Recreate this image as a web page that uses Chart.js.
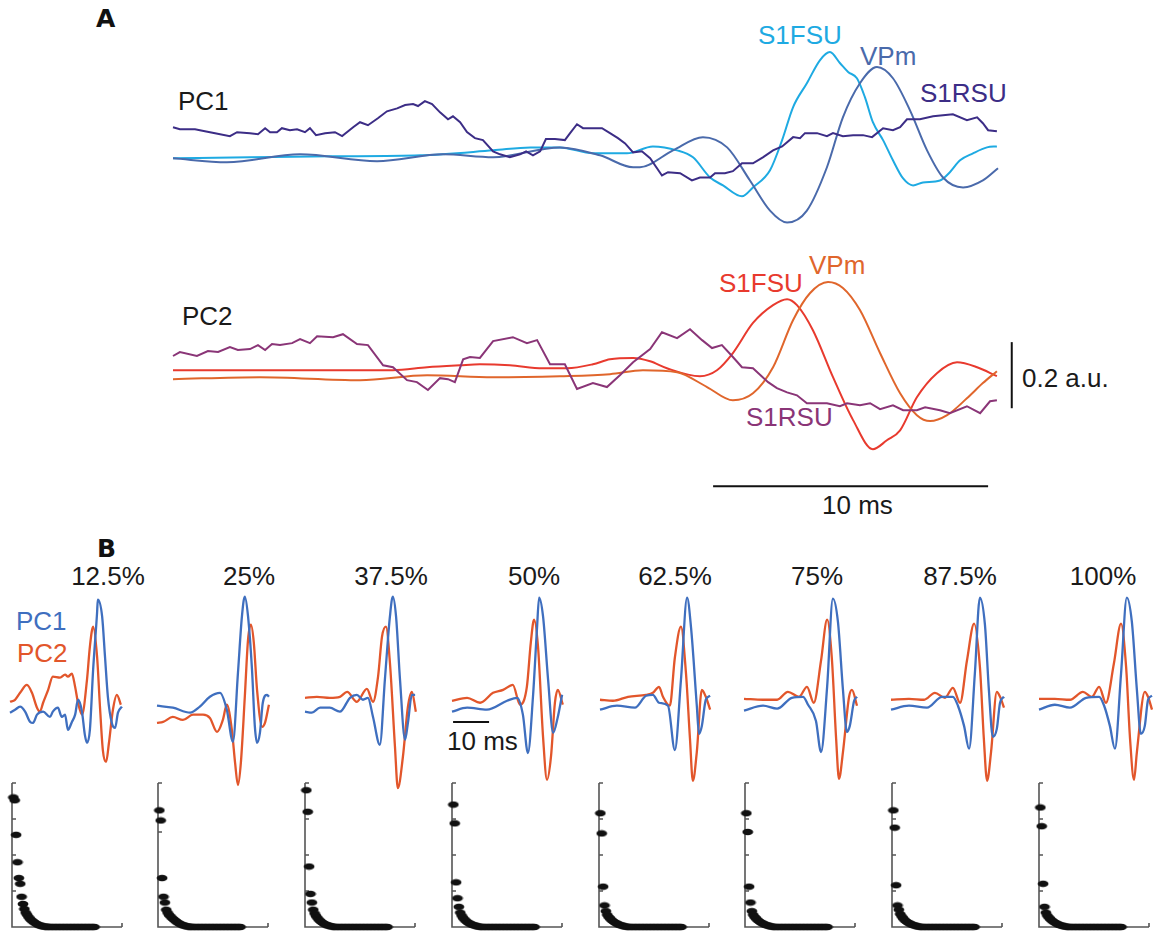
<!DOCTYPE html>
<html>
<head>
<meta charset="utf-8">
<title>PC waveforms</title>
<script src="https://cdn.jsdelivr.net/npm/chart.js@4.4.1/dist/chart.umd.min.js"></script>
<style>
  body { margin: 0; background: #fff; }
  #fig { position: relative; width: 1153px; height: 932px; overflow: hidden; font-family: "Liberation Sans", Arial, sans-serif; }
  #fig canvas { position: absolute; }
  .t { position: absolute; font-size: 26px; line-height: 26px; white-space: nowrap; color: #1a1a1a; }
  .pct { transform: translateX(-50%); }
  .panel { position: absolute; font-family: "DejaVu Sans", sans-serif; font-weight: bold; font-size: 25px; line-height: 25px; color: #111; }
</style>
</head>
<body>
<div id="fig">
  <div class="panel" style="left:96px;top:6px">A</div>
  <div class="t" style="left:178px;top:88px">PC1</div>
  <div class="t" style="left:758px;top:22px;color:#1eaae2">S1FSU</div>
  <div class="t" style="left:860px;top:43px;color:#4a6aab">VPm</div>
  <div class="t" style="left:920px;top:80px;color:#3c2d86">S1RSU</div>
  <div class="t" style="left:182px;top:303px">PC2</div>
  <div class="t" style="left:719px;top:270px;color:#e83a2e">S1FSU</div>
  <div class="t" style="left:809px;top:252px;color:#e0662c">VPm</div>
  <div class="t" style="left:746px;top:404px;color:#8a3577">S1RSU</div>
  <div class="t" style="left:1022px;top:365px">0.2 a.u.</div>
  <div class="t" style="left:822px;top:492px">10 ms</div>

  <div class="panel" style="left:97px;top:536px">B</div>
  <div class="t" style="left:16px;top:608px;color:#3f6fbf">PC1</div>
  <div class="t" style="left:17px;top:640px;color:#e2562b">PC2</div>
  <div class="t pct" style="left:108px;top:563px">12.5%</div>
  <div class="t pct" style="left:249px;top:563px">25%</div>
  <div class="t pct" style="left:391px;top:563px">37.5%</div>
  <div class="t pct" style="left:534px;top:563px">50%</div>
  <div class="t pct" style="left:675px;top:563px">62.5%</div>
  <div class="t pct" style="left:817px;top:563px">75%</div>
  <div class="t pct" style="left:960px;top:563px">87.5%</div>
  <div class="t pct" style="left:1103px;top:563px">100%</div>
  <div class="t" style="left:447px;top:728px">10 ms</div>
</div>
<script>
// ---------- Panel A: mean PC waveforms, [time (ms), amplitude (a.u.)] ----------
const pc1Rsu = [[0,0.091],[0.25,0.085],[0.8,0.085],[1.16,0.079],[1.53,0.073],[2.07,0.064],[2.33,0.076],[2.8,0.073],[3.09,0.07],[3.35,0.088],[3.53,0.076],[3.78,0.076],[3.96,0.088],[4.25,0.082],[4.51,0.085],[4.8,0.076],[4.98,0.088],[5.2,0.067],[5.53,0.073],[5.89,0.076],[6.15,0.064],[6.55,0.091],[6.8,0.106],[7.09,0.097],[7.45,0.118],[7.78,0.139],[8.15,0.148],[8.44,0.158],[8.73,0.161],[8.91,0.155],[9.16,0.17],[9.42,0.161],[9.71,0.136],[10.0,0.115],[10.18,0.124],[10.44,0.106],[10.69,0.076],[10.98,0.058],[11.27,0.052],[11.64,0.018],[11.89,0.009],[12.25,0],[12.62,0.009],[12.84,0.018],[13.09,0.006],[13.35,0.018],[13.56,0.055],[13.89,0.055],[14.25,0.052],[14.44,0.073],[14.69,0.1],[14.91,0.088],[15.6,0.088],[15.89,0.073],[16.18,0.058],[16.44,0.042],[16.73,0.015],[17.05,0.018],[17.35,-0.003],[17.78,-0.055],[18.0,-0.045],[18.44,-0.048],[18.87,-0.07],[19.16,-0.061],[19.53,-0.061],[19.71,-0.048],[20.07,-0.048],[20.36,-0.042],[20.69,-0.018],[21.09,-0.018],[21.45,0],[21.82,0.021],[22.15,0.033],[22.55,0.061],[22.8,0.058],[22.98,0.073],[23.42,0.073],[23.78,0.064],[24.0,0.073],[24.36,0.064],[24.73,0.067],[25.09,0.067],[25.42,0.061],[25.82,0.088],[26.18,0.082],[26.44,0.091],[26.69,0.115],[27.16,0.115],[27.64,0.124],[28.0,0.127],[28.36,0.13],[28.87,0.112],[29.24,0.121],[29.45,0.103],[29.64,0.082],[29.96,0.079]];
const pc1Fsu = [[0,-0.003],[2.8,0],[5.7,0.003],[9.0,0.006],[11.64,0.021],[13.0,0.03],[14.07,0.03],[15.27,0.012],[16.51,0.012],[17.45,0.033],[18.33,0.021],[18.91,0],[19.53,-0.061],[20.0,-0.085],[20.69,-0.118],[21.09,-0.091],[21.71,-0.039],[22.15,0.052],[22.55,0.152],[23.05,0.224],[23.53,0.294],[23.89,0.318],[24.25,0.285],[24.55,0.258],[24.87,0.239],[25.16,0.182],[25.45,0.106],[25.82,0.052],[26.18,-0.009],[26.55,-0.064],[26.91,-0.085],[27.27,-0.076],[27.89,-0.07],[28.25,-0.045],[28.62,-0.009],[29.09,0.012],[29.6,0.03],[29.96,0.033]];
const pc1Vpm = [[0,-0.003],[1.96,-0.015],[4.62,0.009],[7.42,-0.012],[9.82,0.009],[11.64,0],[14.07,0.03],[15.53,0.006],[16.73,-0.03],[16.98,-0.03],[18.18,0.021],[19.27,0.061],[20.15,0.03],[20.98,-0.07],[21.71,-0.161],[22.33,-0.197],[23.05,-0.161],[23.78,-0.03],[24.36,0.121],[24.98,0.224],[25.6,0.273],[26.18,0.239],[26.8,0.142],[27.42,0.021],[28.0,-0.061],[28.73,-0.091],[29.45,-0.07],[30.0,-0.033]];
const pc2Rsu = [[0,0.058],[0.25,0.07],[0.87,0.058],[1.27,0.073],[1.64,0.07],[2.07,0.085],[2.36,0.076],[2.8,0.079],[3.09,0.091],[3.35,0.076],[3.6,0.094],[3.89,0.091],[4.33,0.097],[4.62,0.109],[4.98,0.097],[5.24,0.118],[5.82,0.115],[6.18,0.124],[6.69,0.094],[7.09,0.091],[7.64,0.03],[8.0,0.024],[8.51,-0.015],[8.87,-0.021],[9.27,-0.045],[9.71,-0.009],[10.0,-0.012],[10.25,-0.021],[10.55,0.048],[10.8,0.055],[11.16,0.052],[11.64,0.103],[12.36,0.115],[12.87,0.097],[13.24,0.106],[13.71,0.033],[14.25,0.033],[14.69,-0.042],[15.27,-0.024],[15.78,-0.036],[16.25,0],[16.73,0.039],[17.35,0.079],[17.78,0.13],[18.33,0.112],[18.8,0.139],[19.24,0.106],[19.6,0.082],[19.96,0.091],[20.36,0.055],[20.69,0.024],[21.09,0.021],[21.64,-0.021],[21.96,-0.039],[22.33,-0.052],[22.69,-0.061],[23.05,-0.085],[23.78,-0.085],[24.25,-0.094],[24.51,-0.085],[24.98,-0.091],[25.35,-0.085],[25.71,-0.103],[26.18,-0.091],[26.55,-0.106],[27.05,-0.106],[27.35,-0.097],[27.89,-0.106],[28.25,-0.115],[28.87,-0.094],[29.35,-0.115],[29.71,-0.079],[29.96,-0.076]];
const pc2Fsu = [[0,0.015],[8.0,0.015],[9.24,0.024],[10.44,0.03],[11.16,0.033],[12.25,0.03],[13.45,0.021],[14.33,0.021],[15.27,0.033],[15.89,0.048],[16.73,0.052],[17.35,0.042],[17.96,0.021],[19.16,-0.003],[19.78,0.015],[20.36,0.067],[21.09,0.158],[21.82,0.212],[22.33,0.23],[22.69,0.212],[23.27,0.136],[24.0,-0.006],[24.73,-0.136],[25.45,-0.224],[25.96,-0.197],[26.44,-0.167],[27.05,-0.067],[27.78,0.006],[28.51,0.039],[29.24,0.024],[29.96,-0.003]];
const pc2Vpm = [[0,-0.012],[3.16,-0.006],[6.8,-0.015],[9.24,0],[11.64,-0.006],[14.07,-0.003],[15.89,0.003],[17.09,0.015],[18.33,0.009],[19.42,-0.036],[20.36,-0.076],[21.09,-0.055],[21.82,0.024],[22.55,0.167],[23.16,0.248],[23.82,0.282],[24.36,0.264],[24.98,0.197],[25.71,0.067],[26.44,-0.055],[27.05,-0.121],[27.53,-0.139],[28.15,-0.121],[28.87,-0.07],[29.45,-0.024],[29.96,0.012]];

// scale bars
const scaleBarMs = 10;
const scaleBarAu = 0.2;

// ---------- Panel B: PC1/PC2 per fraction of data ----------
const fractions = ["12.5%", "25%", "37.5%", "50%", "62.5%", "75%", "87.5%", "100%"];
const b1Pc1 = [[0,-0.039],[1.4,-0.03],[2.8,-0.021],[4.2,-0.036],[5.6,-0.067],[6.4,-0.07],[7.5,-0.045],[9.2,-0.036],[11.1,-0.052],[11.9,-0.036],[13.3,-0.024],[14.4,-0.052],[15.3,-0.045],[16.1,-0.091],[17.2,-0.067],[18.1,-0.045],[18.9,0],[20.0,-0.036],[20.8,-0.106],[21.4,-0.13],[22.2,-0.091],[23.1,0.091],[24.2,0.264],[24.4,0.303],[25.6,0.252],[26.4,0.13],[27.2,0.009],[28.3,-0.07],[29.2,-0.085],[30.0,-0.039],[31.1,-0.021]];
const b1Pc2 = [[0,-0.006],[1.4,0],[2.8,0.021],[4.7,0.045],[6.1,0.021],[7.5,-0.024],[8.3,-0.036],[9.2,-0.009],[10.6,0.03],[11.9,0.07],[13.9,0.067],[15.3,0.076],[16.1,0.07],[17.2,0.079],[18.1,0.039],[18.9,-0.009],[20.0,-0.045],[21.4,0.061],[22.2,0.161],[23.1,0.221],[24.2,0.13],[25.0,-0.021],[25.8,-0.152],[26.7,-0.188],[27.5,-0.13],[28.6,-0.03],[29.7,0.015],[30.8,-0.015]];
const b2Pc1 = [[0,-0.018],[4.4,-0.024],[9.2,-0.039],[11.9,-0.021],[14.7,0.009],[17.5,0.021],[19.4,-0.03],[21.1,-0.127],[22.5,0.082],[23.6,0.252],[24.4,0.312],[25.3,0.252],[26.4,0.091],[27.2,-0.082],[27.8,-0.13],[28.6,-0.1],[29.4,-0.009],[30.6,0.015],[31.1,0.009]];
const b2Pc2 = [[0,-0.07],[1.7,-0.067],[4.4,-0.052],[7.2,-0.061],[10.0,-0.045],[12.8,-0.045],[14.7,-0.055],[16.7,-0.097],[18.3,-0.061],[19.4,-0.015],[20.8,-0.091],[21.7,-0.191],[22.5,-0.258],[23.3,-0.191],[24.4,0.009],[25.3,0.182],[26.1,0.227],[26.9,0.173],[27.8,0.03],[29.2,-0.082],[30.0,-0.07],[31.1,-0.015]];
const b3Pc1 = [[0,-0.036],[1.9,-0.039],[4.2,-0.024],[6.9,-0.024],[9.7,-0.036],[12.5,0.006],[14.4,0.015],[16.1,0],[17.5,0.006],[18.9,-0.052],[20.8,-0.136],[22.2,0.061],[23.6,0.252],[24.4,0.312],[25.3,0.252],[26.4,0.061],[27.8,-0.121],[28.6,-0.07],[29.7,0.015],[30.6,0.015]];
const b3Pc2 = [[0,0.006],[3.3,0.009],[6.9,0.006],[9.7,0.009],[11.7,0.024],[14.4,-0.006],[17.2,0.033],[18.9,-0.006],[20.3,0.07],[21.4,0.191],[22.5,0.221],[23.6,0.112],[25.0,-0.142],[25.8,-0.267],[27.2,-0.173],[28.6,-0.021],[29.7,0.024],[30.8,-0.036]];
const b4Pc1 = [[0,-0.036],[4.2,-0.024],[9.7,-0.03],[15.3,-0.003],[18.1,0.006],[19.7,-0.045],[21.1,-0.161],[22.5,0.009],[23.6,0.212],[24.2,0.309],[25.3,0.252],[26.7,0.061],[28.1,-0.1],[29.4,-0.052],[30.6,0.015]];
const b4Pc2 = [[0,-0.003],[4.2,0.006],[7.8,-0.009],[11.4,0.021],[14.2,0.03],[16.9,0.045],[18.9,-0.015],[20.8,0.039],[21.9,0.173],[22.8,0.242],[23.9,0.161],[25.3,-0.112],[26.4,-0.242],[27.5,-0.173],[28.6,-0.009],[29.4,0.03],[30.8,-0.015]];
const b5Pc1 = [[0,-0.03],[4.7,-0.018],[9.7,-0.024],[12.8,0.012],[14.7,0.015],[16.4,-0.009],[18.9,-0.018],[20.8,-0.152],[22.5,0.061],[24.2,0.309],[25.3,0.218],[26.9,-0.018],[27.5,-0.103],[28.3,-0.079],[29.4,0],[30.6,0.012]];
const b5Pc2 = [[0,0],[3.6,-0.003],[7.8,0.009],[12.8,0.015],[14.7,0.021],[16.4,0.039],[17.5,0.009],[19.4,-0.018],[20.8,0.127],[22.5,0.221],[23.9,0.079],[25.0,-0.118],[25.8,-0.245],[26.9,-0.158],[28.3,0.03],[29.4,0.009],[30.6,-0.03]];
const b6Pc1 = [[0,-0.033],[5.3,-0.018],[9.2,-0.027],[13.3,0.006],[16.4,0.009],[17.8,-0.015],[20.0,-0.064],[21.4,-0.158],[23.1,0.039],[24.7,0.306],[26.1,0.236],[27.5,0.03],[28.6,-0.097],[29.4,-0.079],[30.6,-0.003],[31.4,0.009]];
const b6Pc2 = [[0,0.003],[5.3,0],[9.2,0],[12.2,0.024],[15.3,0.009],[17.5,0.039],[19.4,-0.009],[21.4,0.118],[23.1,0.242],[24.4,0.127],[25.6,-0.118],[26.4,-0.239],[27.5,-0.158],[29.2,0.009],[30.0,0.03],[31.4,-0.018]];
const b7Pc1 = [[0,-0.03],[5.0,-0.018],[10.0,-0.024],[14.2,0.009],[17.2,0.009],[18.6,-0.018],[20.3,-0.079],[21.7,-0.148],[23.3,0.079],[24.7,0.309],[26.1,0.227],[27.2,0.03],[28.3,-0.112],[29.4,-0.088],[30.3,-0.009],[31.4,0.009]];
const b7Pc2 = [[0,0],[5.0,0.003],[9.2,0],[12.2,0.021],[15.0,0.006],[17.2,0.036],[19.2,-0.009],[21.1,0.118],[23.1,0.23],[24.7,0.1],[25.8,-0.118],[26.7,-0.245],[27.8,-0.158],[29.4,0.024],[30.3,0.009],[31.4,-0.024]];
const b8Pc1 = [[0,-0.03],[4.4,-0.015],[8.6,-0.024],[13.1,0.006],[16.7,0.009],[18.1,-0.018],[19.7,-0.079],[21.1,-0.148],[22.8,0.079],[24.4,0.309],[25.8,0.236],[27.2,0.03],[28.3,-0.103],[29.4,-0.079],[30.3,0],[31.4,0.012]];
const b8Pc2 = [[0,0.003],[4.4,0.003],[8.6,0],[12.2,0.024],[14.7,0.009],[16.7,0.039],[18.6,-0.009],[20.8,0.109],[22.8,0.23],[24.2,0.1],[25.3,-0.118],[26.4,-0.242],[27.2,-0.158],[29.4,0.024],[30.3,0.009],[31.4,-0.03]];

// eigenvalue spectra (fraction of axis max), component index 1..60
const scree1 = [0.90,0.88,0.64,0.45,0.34,0.30,0.21,0.16,0.125,0.10,0.085,0.07,0.058,0.048,0.04,0.033,0.027,0.021,0.016,0.012,0.009,0.006,0.004,0.003,0.002,0.001,0,0,0,0,0,0,0,0,0,0,0,0,0,0,0,0,0,0,0,0,0,0,0,0,0,0,0,0,0,0,0,0,0,0];
const scree2 = [0.81,0.74,0.34,0.21,0.17,0.12,0.10,0.085,0.075,0.065,0.056,0.048,0.04,0.033,0.027,0.022,0.017,0.013,0.01,0.007,0.005,0.003,0.002,0.001,0,0,0,0,0,0,0,0,0,0,0,0,0,0,0,0,0,0,0,0,0,0,0,0,0,0,0,0,0,0,0,0,0,0,0,0];
const scree3 = [0.95,0.80,0.42,0.23,0.17,0.12,0.095,0.078,0.064,0.052,0.043,0.035,0.028,0.022,0.017,0.013,0.01,0.007,0.005,0.003,0.001,0,0,0,0,0,0,0,0,0,0,0,0,0,0,0,0,0,0,0,0,0,0,0,0,0,0,0,0,0,0,0,0,0,0,0,0,0,0,0];
const scree4 = [0.85,0.72,0.31,0.20,0.14,0.10,0.08,0.065,0.053,0.044,0.036,0.029,0.024,0.019,0.015,0.012,0.009,0.006,0.004,0.002,0.001,0,0,0,0,0,0,0,0,0,0,0,0,0,0,0,0,0,0,0,0,0,0,0,0,0,0,0,0,0,0,0,0,0,0,0,0,0,0,0];
const scree5 = [0.79,0.65,0.28,0.15,0.11,0.085,0.07,0.06,0.05,0.042,0.035,0.029,0.024,0.019,0.015,0.012,0.009,0.006,0.004,0.002,0.001,0,0,0,0,0,0,0,0,0,0,0,0,0,0,0,0,0,0,0,0,0,0,0,0,0,0,0,0,0,0,0,0,0,0,0,0,0,0,0];
const scree6 = [0.79,0.66,0.28,0.17,0.11,0.085,0.07,0.06,0.05,0.042,0.035,0.029,0.024,0.019,0.015,0.012,0.009,0.006,0.004,0.002,0.001,0,0,0,0,0,0,0,0,0,0,0,0,0,0,0,0,0,0,0,0,0,0,0,0,0,0,0,0,0,0,0,0,0,0,0,0,0,0,0];
const scree7 = [0.81,0.69,0.29,0.15,0.12,0.09,0.075,0.062,0.051,0.042,0.035,0.029,0.024,0.019,0.015,0.012,0.009,0.006,0.004,0.002,0.001,0,0,0,0,0,0,0,0,0,0,0,0,0,0,0,0,0,0,0,0,0,0,0,0,0,0,0,0,0,0,0,0,0,0,0,0,0,0,0];
const scree8 = [0.83,0.70,0.30,0.14,0.10,0.08,0.068,0.058,0.048,0.04,0.034,0.028,0.023,0.018,0.014,0.011,0.008,0.006,0.004,0.002,0.001,0,0,0,0,0,0,0,0,0,0,0,0,0,0,0,0,0,0,0,0,0,0,0,0,0,0,0,0,0,0,0,0,0,0,0,0,0,0,0];
const screeTicks = [[0.25,0.5,0.75,1],[0.33,0.66,1],[0.25,0.5,0.75,1],[0.25,0.5,0.75,1],[0.25,0.5,0.75,1],[0.25,0.5,0.75,1],[0.25,0.5,0.75,1],[0.25,0.5,0.75,1]];

const colors = {
  pc1Rsu: "#3c2d86", pc1Fsu: "#1eaae2", pc1Vpm: "#4a6aab",
  pc2Rsu: "#8a3577", pc2Fsu: "#e83a2e", pc2Vpm: "#e0662c",
  bPc1: "#3f6fbf", bPc2: "#e2562b",
};

const fig = document.getElementById("fig");

function addCanvas(left, top, w, h) {
  const c = document.createElement("canvas");
  c.width = w;
  c.height = h;
  c.style.left = left + "px";
  c.style.top = top + "px";
  fig.appendChild(c);
  return c;
}

function traceChart(canvas, traces, xMin, xMax, yMin, yMax, padding, plugins) {
  return new Chart(canvas, {
    type: "line",
    data: {
      datasets: traces.map((tr) => ({
        data: tr.pts.map((p) => ({ x: p[0], y: p[1] })),
        borderColor: tr.color,
        borderWidth: tr.width,
        pointRadius: 0,
        fill: false,
        tension: 0,
        cubicInterpolationMode: tr.smooth ? "monotone" : "default",
        clip: false,
      })),
    },
    options: {
      responsive: false,
      animation: false,
      events: [],
      layout: { padding: padding },
      plugins: { legend: { display: false }, tooltip: { enabled: false } },
      scales: {
        x: { type: "linear", display: false, min: xMin, max: xMax },
        y: { display: false, min: yMin, max: yMax },
      },
    },
    plugins: plugins || [],
  });
}

// Panel A, PC1
traceChart(addCanvas(163, 25, 880, 215), [
  { pts: pc1Rsu, color: colors.pc1Rsu, width: 2, smooth: false },
  { pts: pc1Vpm, color: colors.pc1Vpm, width: 2, smooth: true },
  { pts: pc1Fsu, color: colors.pc1Fsu, width: 2, smooth: true },
], 0, 30, -0.25, 0.4, { left: 10, right: 45, top: 0, bottom: 0 });

// scale bars drawn from the PC2 chart's scales
const scaleBarsA = {
  id: "scaleBarsA",
  afterDraw(chart) {
    const { ctx, scales: { x, y } } = chart;
    ctx.save();
    ctx.strokeStyle = "#111";
    ctx.lineWidth = 2;
    const vx = x.getPixelForValue(30.5);
    ctx.beginPath();
    ctx.moveTo(vx, y.getPixelForValue(scaleBarAu / 2));
    ctx.lineTo(vx, y.getPixelForValue(-scaleBarAu / 2));
    ctx.stroke();
    const hy = y.getPixelForValue(-0.336);
    ctx.beginPath();
    ctx.moveTo(x.getPixelForValue(19.64), hy);
    ctx.lineTo(x.getPixelForValue(19.64 + scaleBarMs), hy);
    ctx.stroke();
    ctx.restore();
  },
};

// Panel A, PC2
traceChart(addCanvas(163, 243, 880, 285), [
  { pts: pc2Rsu, color: colors.pc2Rsu, width: 2, smooth: false },
  { pts: pc2Vpm, color: colors.pc2Vpm, width: 2, smooth: true },
  { pts: pc2Fsu, color: colors.pc2Fsu, width: 2, smooth: true },
], 0, 30, -0.4625, 0.4, { left: 10, right: 45, top: 0, bottom: 0 }, [scaleBarsA]);

// Panel B waveforms
const bCols = [10, 157, 305, 452, 600, 744, 891, 1039];
const bPc1 = [b1Pc1, b2Pc1, b3Pc1, b4Pc1, b5Pc1, b6Pc1, b7Pc1, b8Pc1];
const bPc2 = [b1Pc2, b2Pc2, b3Pc2, b4Pc2, b5Pc2, b6Pc2, b7Pc2, b8Pc2];

const scaleBarB = {
  id: "scaleBarB",
  afterDraw(chart) {
    const { ctx, scales: { x, y } } = chart;
    const hy = y.getPixelForValue(-0.067);
    ctx.save();
    ctx.strokeStyle = "#111";
    ctx.lineWidth = 2;
    ctx.beginPath();
    ctx.moveTo(x.getPixelForValue(0.3), hy);
    ctx.lineTo(x.getPixelForValue(0.3 + scaleBarMs), hy);
    ctx.stroke();
    ctx.restore();
  },
};

bCols.forEach((left, i) => {
  traceChart(addCanvas(left - 2, 584, 118, 215), [
    { pts: bPc1[i], color: colors.bPc1, width: 2.3, smooth: true },
    { pts: bPc2[i], color: colors.bPc2, width: 2.3, smooth: true },
  ], 0, 31.4, -0.3, 0.35, { left: 2, right: 3, top: 0, bottom: 0 }, i === 3 ? [scaleBarB] : []);
});

// Panel B eigenvalue spectra
const screeCols = [12, 158, 305, 452, 599, 745, 892, 1039];
const screeData = [scree1, scree2, scree3, scree4, scree5, scree6, scree7, scree8];

// flat black ellipse marker
const dot = document.createElement("canvas");
dot.width = 12;
dot.height = 8;
const dctx = dot.getContext("2d");
dctx.fillStyle = "#111";
dctx.beginPath();
dctx.ellipse(6, 4, 5.4, 3.3, 0, 0, Math.PI * 2);
dctx.fill();

const screeAxes = {
  id: "screeAxes",
  beforeDatasetsDraw(chart, args, opts) {
    const { ctx, chartArea: a, scales: { x, y } } = chart;
    ctx.save();
    ctx.strokeStyle = "#555";
    ctx.lineWidth = 1.6;
    ctx.beginPath();
    ctx.moveTo(a.left, a.top);
    ctx.lineTo(a.left, a.bottom);
    ctx.lineTo(a.right, a.bottom);
    (opts.ticks || []).forEach((v) => {
      const py = y.getPixelForValue(v);
      ctx.moveTo(a.left, py);
      ctx.lineTo(a.left + 4, py);
    });
    const ex = x.getPixelForValue(x.max);
    ctx.moveTo(ex, a.bottom);
    ctx.lineTo(ex, a.bottom - 4);
    ctx.stroke();
    ctx.restore();
  },
};

screeCols.forEach((left, i) => {
  new Chart(addCanvas(left - 7, 777, 126, 155), {
    type: "scatter",
    data: {
      datasets: [{
        data: screeData[i].map((v, k) => ({ x: k + 1, y: v })),
        pointStyle: dot,
        pointRadius: 4,
        clip: false,
      }],
    },
    options: {
      responsive: false,
      animation: false,
      events: [],
      layout: { padding: { left: 7, right: 9, top: 6, bottom: 5 } },
      plugins: {
        legend: { display: false },
        tooltip: { enabled: false },
        screeAxes: { ticks: screeTicks[i] },
      },
      scales: {
        x: { type: "linear", display: false, min: 0, max: 80 },
        y: { display: false, min: 0, max: 1 },
      },
    },
    plugins: [screeAxes],
  });
});
</script>
</body>
</html>
